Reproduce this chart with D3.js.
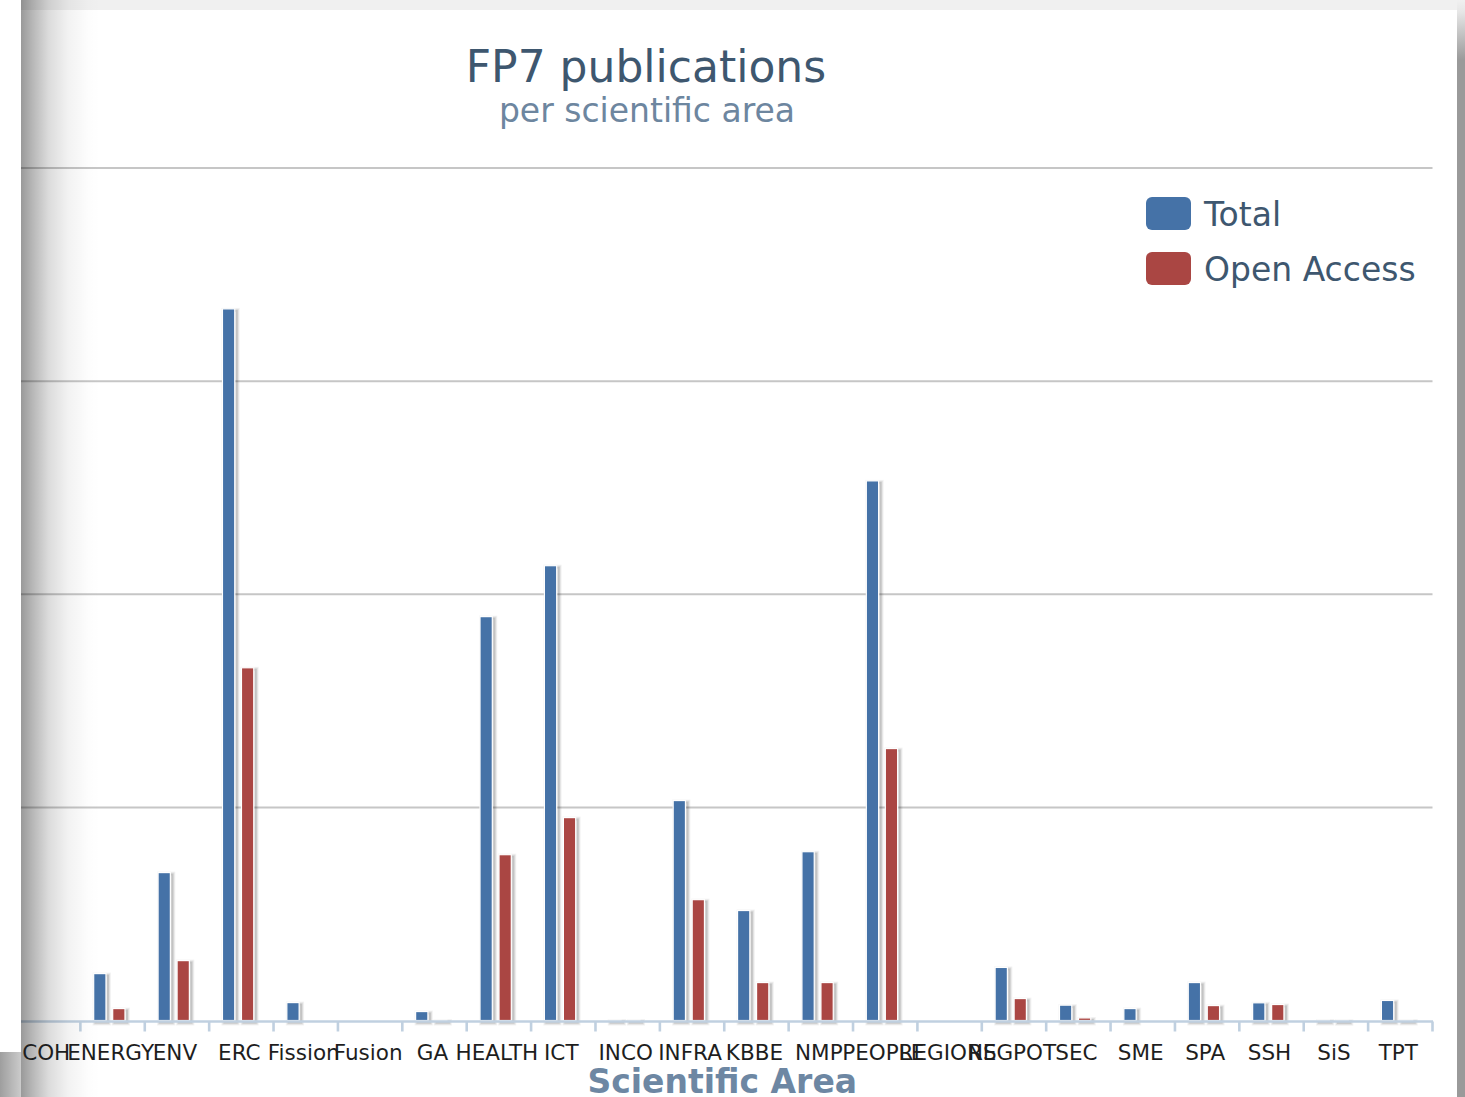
<!DOCTYPE html>
<html><head><meta charset="utf-8">
<script src="https://cdn.jsdelivr.net/npm/d3@7"></script>
<style>html,body{margin:0;padding:0;background:#fff;overflow:hidden}</style>
</head><body><svg id="c" width="1465" height="1097"></svg>
<script>
const categories = ["COH","ENERGY","ENV","ERC","Fission","Fusion","GA","HEALTH","ICT","INCO","INFRA","KBBE","NMP","PEOPLE","REGIONS","REGPOT","SEC","SME","SPA","SSH","SiS","TPT"];
const seriesNames = ["Total","Open Access"];
const totalValues = [0,220,694,3339,84,0,42,1895,2134,2,1032,516,792,2532,0,249,72,56,178,83,2,94];
const openAccessValues = [0,56,281,1655,0,0,2,778,952,2,567,178,178,1276,0,103,12,0,70,75,1,2];
const yTicks = [0,1000,2000,3000,4000];
const seriesColors = ["#4572A7","#AA4643"];
const titleText = "FP7 publications";
const subtitleText = "per scientific area";
const xAxisTitle = "Scientific Area";

const W = 1465, H = 1097;
const svg = d3.select("#c");
const defs = svg.append("defs");

const lg = defs.append("linearGradient").attr("id","leftShade")
  .attr("gradientUnits","userSpaceOnUse").attr("x1",21).attr("x2",100).attr("y1",0).attr("y2",0);
[[0,0.40],[0.15,0.28],[0.35,0.14],[0.6,0.05],[0.85,0.01],[1,0]].forEach(([o,a])=>
  lg.append("stop").attr("offset",o).attr("stop-color","#000").attr("stop-opacity",a));
const rg = defs.append("linearGradient").attr("id","rightShade")
  .attr("gradientUnits","userSpaceOnUse").attr("x1",0).attr("x2",0).attr("y1",0).attr("y2",60);
[[0,"#f0f0f0"],[0.2,"#e6e6e6"],[1,"#9a9a9a"]].forEach(([o,c])=>rg.append("stop").attr("offset",o).attr("stop-color",c));
const bg = defs.append("linearGradient").attr("id","blShade")
  .attr("gradientUnits","userSpaceOnUse").attr("x1",0).attr("x2",60).attr("y1",0).attr("y2",0);
[[0,0.38],[0.4,0.18],[1,0]].forEach(([o,a])=>bg.append("stop").attr("offset",o).attr("stop-color","#000").attr("stop-opacity",a));
defs.append("clipPath").attr("id","cardClip").append("rect").attr("x",21).attr("y",10).attr("width",1436).attr("height",1087);

// frame
svg.append("rect").attr("x",21).attr("y",0).attr("width",W-21).attr("height",10).attr("fill","#f0f0f0");
svg.append("rect").attr("x",1457).attr("y",0).attr("width",8).attr("height",H).attr("fill","url(#rightShade)");
svg.append("path").attr("d","M21,10 H1449 Q1457,10 1457,18 V1097 H21 Z").attr("fill","#fff");
svg.append("rect").attr("x",0).attr("y",1052).attr("width",21).attr("height",45).attr("fill","url(#blShade)");

const plot = svg.append("g").attr("clip-path","url(#cardClip)");

const x0 = d3.scaleBand().domain(categories).range([16,1432.5]).padding(0);
const x1 = d3.scaleBand().domain(seriesNames).range([13.3,44.6]).paddingInner(0.353);
const y = d3.scaleLinear().domain([0,4000]).range([1020.5,168]);

// gridlines
plot.append("g").selectAll("line").data(yTicks.filter(t=>t>0)).join("line")
  .attr("x1",16).attr("x2",1432.5).attr("y1",d=>y(d)).attr("y2",d=>y(d))
  .attr("stroke","#c6c6c6").attr("stroke-width",2);

// bars
const rows = categories.map((c,i)=>({cat:c, vals:[totalValues[i], openAccessValues[i]]}));
const groups = plot.append("g").selectAll("g").data(rows).join("g")
  .attr("transform",d=>`translate(${x0(d.cat)},0)`);
const barData = d=>d.vals.map((v,j)=>({name:seriesNames[j], v, color:seriesColors[j]})).filter(b=>b.v>0);
groups.each(function(d){
  const g = d3.select(this);
  const bars = barData(d);
  [[6,0.05],[4,0.08],[2,0.12]].forEach(([sw,op])=>{
    g.selectAll(null).data(bars).join("rect")
      .attr("x",b=>x1(b.name)+2).attr("y",b=>y(b.v)+2)
      .attr("width",x1.bandwidth()).attr("height",b=>Math.max(0.5,y(0)-y(b.v)))
      .attr("fill","none").attr("stroke","#000").attr("stroke-opacity",op).attr("stroke-width",sw);
  });
  g.selectAll(null).data(bars).join("rect")
    .attr("x",b=>x1(b.name)).attr("y",b=>y(b.v))
    .attr("width",x1.bandwidth()).attr("height",b=>Math.max(0.5,y(0)-y(b.v)))
    .attr("fill",b=>b.color).attr("stroke","#fff").attr("stroke-width",1.2);
});

// left shade overlay on card
svg.append("rect").attr("x",21).attr("y",0).attr("width",80).attr("height",H).attr("fill","url(#leftShade)");

// x axis
const xAxis = d3.axisBottom(x0).tickSize(0).tickPadding(0);
const ax = plot.append("g").attr("transform",`translate(0,${y(0)+1})`);
ax.append("line").attr("x1",16).attr("x2",1433).attr("y1",0).attr("y2",0).attr("stroke","#C0D0E0").attr("stroke-width",2.6);
ax.selectAll(".tk").data(categories).join("line").attr("class","tk")
  .attr("x1",d=>x0(d)+x0.bandwidth()).attr("x2",d=>x0(d)+x0.bandwidth())
  .attr("y1",0).attr("y2",10).attr("stroke","#C0D0E0").attr("stroke-width",2.6);
const labG = svg.append("g").attr("transform",`translate(-2,1060)`).call(xAxis);
labG.select(".domain").remove();
labG.selectAll("text").attr("dy",0).attr("y",0)
  .attr("font-family","DejaVu Sans").attr("font-size",21.5).attr("fill","#1e1e1e");

svg.append("text").attr("x",(16+1432.5)/2-2).attr("y",1093).attr("text-anchor","middle")
  .attr("font-family","DejaVu Sans").attr("font-weight","bold").attr("font-size",33).attr("fill","#6d87a3")
  .text(xAxisTitle);

// titles
svg.append("text").attr("x",646).attr("y",82).attr("text-anchor","middle")
  .attr("font-family","DejaVu Sans").attr("font-size",44).attr("fill","#3E576F").text(titleText);
svg.append("text").attr("x",647).attr("y",122).attr("text-anchor","middle")
  .attr("font-family","DejaVu Sans").attr("font-size",33).attr("fill","#6D869F").text(subtitleText);

// legend
const leg = svg.append("g").selectAll("g").data(seriesNames).join("g")
  .attr("transform",(d,i)=>`translate(1146,${197+i*55})`);
leg.append("rect").attr("width",45).attr("height",33).attr("rx",6).attr("fill",(d,i)=>seriesColors[i]);
leg.append("text").attr("x",58).attr("y",29).attr("font-family","DejaVu Sans").attr("font-size",33)
  .attr("fill","#3E576F").text(d=>d);
</script></body></html>
